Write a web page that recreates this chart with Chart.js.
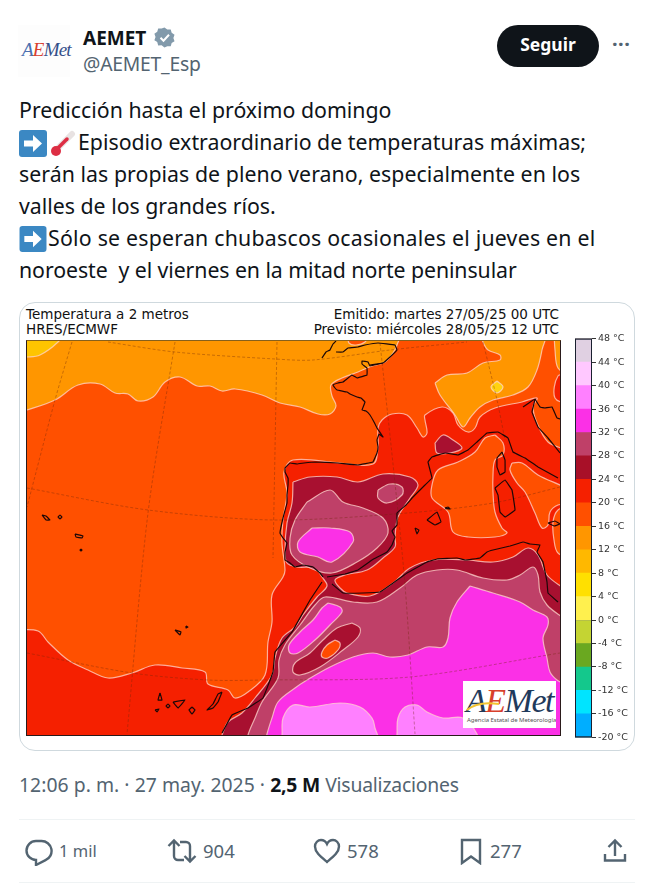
<!DOCTYPE html>
<html><head><meta charset="utf-8">
<script src="https://cdn.jsdelivr.net/npm/chart.js@4"></script>
<style>
html,body{margin:0;padding:0;background:#fff;width:654px;height:895px;overflow:hidden}
body{position:relative;font-family:"Noto Sans",sans-serif;color:#0f1419}
.t{position:absolute;white-space:nowrap}
.body{font-size:21.3px;left:19px;line-height:32px;color:#0f1419}
.g{color:#536471}
.m{font-family:"DejaVu Sans",sans-serif;font-size:13.5px;color:#111;line-height:15px}
canvas{position:absolute;display:block}
svg{position:absolute}
.hr{position:absolute;left:19px;width:616px;height:1px;background:#eff3f4}
</style></head><body>

<div class="t" style="left:18px;top:25px;width:52px;height:52px;background:#fdfdfd"></div>
<div class="t" style="left:22px;top:39px;font:italic 19px 'Liberation Serif',serif;letter-spacing:-.8px;color:#35508a"><span style="color:#4a6fb0">A</span><span style="color:#d8402c">E</span>Met</div>
<div class="t" style="left:83px;top:25px;font-size:19px;font-weight:700;line-height:26px">AEMET</div>
<svg style="left:154px;top:27px" width="22" height="22" viewBox="0 0 22 22"><path d="M11 1l3 2.2 3.6-.1 1 3.5 3 2.1-1.200 3.300 1.200 3.400-3 2-1 3.500-3.600-.1L11 22l-3-2.200-3.600.1-1-3.500-3-2L1.600 11 .4 7.700l3-2.100 1-3.500 3.600.1z" transform="translate(0 -.5) scale(.95)" fill="#829aab"/><path d="M6.500 10.800l3 3 5.500-6" fill="none" stroke="#fff" stroke-width="2"/></svg>
<div class="t g" style="left:83px;top:51px;font-size:19.3px;line-height:26px;letter-spacing:-.2px">@AEMET_Esp</div>
<div class="t" style="left:497px;top:25px;width:102px;height:42px;border-radius:21px;background:#0f1419;color:#fff;font-size:17.5px;font-weight:700;line-height:39px;text-align:center">Seguir</div>
<div class="t g" style="left:612px;top:34px;font-size:20px;font-weight:700;line-height:20px;letter-spacing:.5px">···</div>

<div class="t body" style="top:94px">Predicción hasta el próximo domingo</div>
<svg style="left:19px;top:130px" width="28" height="27" viewBox="0 0 28 27"><rect width="28" height="27" rx="3" fill="#3b88c3"/><path d="M5 10.500h9V5l9 8.500-9 8.500v-5.500H5z" fill="#fff"/></svg>
<svg style="left:50px;top:130px" width="26" height="27" viewBox="0 0 26 27"><path d="M22 4L7 19" stroke="#e8e2e2" stroke-width="6" stroke-linecap="round"/><path d="M17 9L7 19" stroke="#dd2e44" stroke-width="3.500" stroke-linecap="round"/><circle cx="6" cy="21" r="5" fill="#dd2e44"/></svg>
<div class="t body" style="top:126px;left:78px">Episodio extraordinario de temperaturas máximas;</div>
<div class="t body" style="top:158px;letter-spacing:.05px">serán las propias de pleno verano, especialmente en los</div>
<div class="t body" style="top:190px">valles de los grandes ríos.</div>
<svg style="left:19px;top:226px" width="28" height="26" viewBox="0 0 28 27"><rect width="28" height="27" rx="3" fill="#3b88c3"/><path d="M5 10.500h9V5l9 8.500-9 8.500v-5.500H5z" fill="#fff"/></svg>
<div class="t body" style="top:222px;left:48px;letter-spacing:.23px">Sólo se esperan chubascos ocasionales el jueves en el</div>
<div class="t body" style="top:254px;letter-spacing:-.08px">noroeste&nbsp; y el viernes en la mitad norte peninsular</div>

<div class="t" style="left:19px;top:302px;width:614px;height:447px;border:1px solid #cfd9de;border-radius:16px"></div>
<div class="t m" style="left:26px;top:307px">Temperatura a 2 metros<br>HRES/ECMWF</div>
<div class="t m" style="right:95px;top:307px;text-align:right">Emitido: martes 27/05/25 00 UTC<br>Previsto: miércoles 28/05/25 12 UTC</div>

<canvas id="map" width="534" height="394" style="left:26px;top:341px;width:534px;height:394px"></canvas>
<div class="t" style="left:26px;top:340px;width:533px;height:394px;border:1px solid #2a1a1a;border-top-color:#86601c;pointer-events:none"></div>
<div class="t" style="left:463px;top:681px;width:93px;height:47px;background:#fff;overflow:hidden">
  <div class="t" style="left:3px;top:1px;font:italic 34px 'Liberation Serif',serif;letter-spacing:-1.5px;color:#1f3a5c"><span>A</span><span style="color:#d8402c">E</span>Met</div>
  <svg style="left:3px;top:20px" width="34" height="10" viewBox="0 0 34 10"><path d="M1 9C8 3 20 1 33 3" fill="none" stroke="#f4c430" stroke-width="2"/></svg>
  <div class="t" style="left:4px;top:35px;font:6px 'Noto Sans',sans-serif;letter-spacing:-.05px;color:#555">Agencia Estatal de Meteorología</div>
</div>
<canvas id="bar" width="65" height="414" style="left:575px;top:331px;width:65px;height:414px"></canvas>

<div class="t g" style="left:19px;top:771px;font-size:19.35px;line-height:28px"><span style="letter-spacing:.04px">12:06 p. m. · 27 may. 2025 · </span><b style="color:#0f1419;font-weight:700;letter-spacing:-.2px">2,5 M</b> <span style="letter-spacing:-.2px">Visualizaciones</span></div>
<div class="hr" style="top:819px"></div>
<div class="hr" style="top:882px"></div>
<svg style="left:25px;top:838px" width="28" height="28" viewBox="0 0 28 28" fill="none" stroke="#536471" stroke-width="2.400"><path d="M11 3h5.500a10 10 0 0 1 4 19.200L11 27v-5A9.500 9.500 0 0 1 11 3z"/></svg>
<div class="t g" style="left:59px;top:838px;font-size:16.5px;line-height:26px">1 mil</div>
<svg style="left:167px;top:838px" width="30" height="26" viewBox="0 0 30 26" fill="none" stroke="#536471" stroke-width="2.400"><path d="M1.500 8L7 2.500 12.500 8M7 3v15a4 4 0 0 0 4 4h6M28.500 18L23 23.500 17.500 18M23 23V8a4 4 0 0 0-4-4h-6"/></svg>
<div class="t g" style="left:203px;top:838px;font-size:18.500px;line-height:26px">904</div>
<svg style="left:313px;top:838px" width="28" height="26" viewBox="0 0 28 26" fill="none" stroke="#536471" stroke-width="2.400"><path d="M14 24C8 19 2 14.500 2 8.500 2 4.500 5 2 8 2c2.500 0 4.800 1.500 6 4 1.200-2.500 3.500-4 6-4 3 0 6 2.500 6 6.500 0 6-6 10.500-12 15.500z"/></svg>
<div class="t g" style="left:347px;top:838px;font-size:18.500px;line-height:26px">578</div>
<svg style="left:460px;top:838px" width="22" height="27" viewBox="0 0 22 27" fill="none" stroke="#536471" stroke-width="2.400"><path d="M2 2h18v23l-9-6.500L2 25z"/></svg>
<div class="t g" style="left:490px;top:838px;font-size:18.500px;line-height:26px">277</div>
<svg style="left:603px;top:838px" width="24" height="26" viewBox="0 0 24 26" fill="none" stroke="#536471" stroke-width="2.400"><path d="M12 18V3M5.500 9L12 2.500 18.500 9M2 16v6.500h20V16"/></svg>

<script>
// ---- colour bar values ----
const tempLow  = [-20,-16,-12,-8,-4,0,4,8,12,16,20,24,28,32,36,40,44];
const tempHigh = [-16,-12,-8,-4,0,4,8,12,16,20,24,28,32,36,40,44,48];
const bandColors = ['#00aeff','#00e4ff','#14c88c','#6aa820','#c4d433','#fff04e','#ffe000','#ffb800','#ff9600','#ff5000','#f52000','#a81028','#bf4068','#fb30e6','#ff80ff','#ffc8ff','#e0d0e2'];

// ---- map contours (map x, map y) ----
const seaBase = [[10,330],[575,330],[575,745],[10,745],[10,330]];
const yellowCorner = [[15,330],[15,357],[27,357],[40,355],[58,342],[66,330],[15,330]];
const orangeNorth = [[15,330],[15,413],[27,410],[55,400],[78,385],[100,384],[115,393],[128,394],[138,401],[153,397],[165,382],[180,377],[197,386],[210,386],[222,391],[235,389],[262,395],[280,403],[300,407],[318,414],[330,414],[336,406],[332,396],[331,385],[342,378],[358,372],[372,366],[385,362],[393,353],[397,345],[400,330],[15,330]];
const channelPatch = [[348,336],[349,343],[356,345],[365,342],[367,336],[348,336]];
const orangeCentral = [[435,383],[447,375],[467,373],[483,363],[500,360],[500,355],[488,350],[483,342],[480,330],[545,330],[542,350],[537,370],[528,387],[513,395],[493,400],[480,407],[470,418],[463,427],[455,415],[440,395],[435,383]];
const orangeSliver = [[554,330],[555,350],[558,368],[568,372],[568,330],[554,330]];
const yellowDot = [[497,381],[503,387],[497,393],[491,387],[497,381]];
const redMain = [[15,630],[38,631],[48,642],[68,660],[88,670],[108,678],[132,673],[155,665],[182,668],[205,672],[208,684],[228,690],[235,698],[248,692],[265,675],[268,642],[272,622],[272,595],[283,577],[285,570],[282,543],[283,520],[287,493],[284,472],[293,460],[340,463],[373,464],[378,447],[378,428],[382,420],[392,414],[407,415],[417,428],[423,437],[427,433],[425,420],[425,415],[442,407],[453,413],[458,425],[468,432],[475,428],[480,417],[495,408],[522,402],[537,398],[533,407],[537,423],[548,442],[572,457],[572,750],[15,750],[15,630]];
const redRightEdge = [[570,375],[558,376],[555,398],[570,402],[570,375]];
const medBlob = [[495,435],[503,443],[503,455],[495,460],[493,475],[493,492],[495,512],[502,528],[507,533],[495,537],[468,537],[453,532],[448,512],[432,498],[432,485],[438,470],[458,462],[475,452],[485,438],[495,435]];
const ionianBlob = [[512,463],[522,463],[538,475],[572,492],[572,503],[558,505],[550,512],[548,525],[542,528],[535,513],[525,492],[517,483],[510,470],[512,463]];
const ionianSliver = [[572,505],[558,510],[553,522],[554,540],[558,553],[572,556],[572,505]];
const darkFrance = [[435,443],[443,435],[453,440],[462,448],[450,453],[437,453],[435,443]];
const darkIberiaAfrica = [[293,482],[310,477],[337,477],[358,482],[383,474],[410,477],[418,485],[410,498],[398,517],[395,537],[395,547],[383,558],[367,570],[345,575],[335,580],[340,588],[347,593],[370,596],[393,583],[410,568],[433,560],[467,560],[493,562],[513,557],[528,548],[538,555],[547,575],[572,600],[572,750],[216,750],[222,735],[228,722],[242,713],[255,698],[272,675],[275,658],[282,638],[295,627],[303,615],[317,597],[327,586],[322,577],[315,568],[297,567],[287,563],[285,550],[287,523],[292,503],[293,482]];
const roseIberia = [[307,502],[330,490],[343,502],[363,508],[383,518],[388,533],[377,548],[357,562],[332,573],[310,568],[292,555],[290,538],[295,520],[307,502]];
const roseIberiaNE = [[378,490],[390,484],[402,487],[402,495],[387,503],[378,498],[378,490]];
const roseAfrica = [[246,750],[248,735],[255,718],[262,702],[278,678],[279,660],[285,645],[300,625],[315,605],[325,597],[353,602],[377,602],[400,588],[417,575],[437,570],[457,570],[483,578],[507,580],[520,575],[533,567],[538,575],[540,592],[547,605],[572,630],[572,750],[246,750]];
const magentaIberia = [[312,528],[330,528],[350,532],[353,542],[332,562],[318,557],[300,552],[298,542],[312,528]];
const magentaAfrica = [[470,586],[493,593],[520,602],[533,610],[547,617],[548,625],[543,638],[547,658],[550,672],[557,680],[572,690],[572,750],[264,750],[267,734],[272,718],[278,702],[295,688],[307,680],[330,667],[353,657],[373,653],[390,657],[408,655],[427,647],[443,647],[448,638],[450,618],[457,602],[470,586]];
const magentaLens = [[328,603],[340,607],[342,612],[330,625],[315,640],[298,653],[290,653],[289,645],[300,632],[313,620],[322,608],[328,603]];
const darkLens = [[352,623],[360,628],[358,637],[343,650],[320,667],[300,675],[293,672],[295,663],[310,653],[323,640],[337,628],[352,623]];
const redSpot = [[335,640],[340,643],[338,650],[328,658],[322,657],[322,652],[327,645],[335,640]];
const lightSouthW = [[280,750],[282,735],[283,718],[293,705],[310,707],[340,703],[360,707],[372,718],[375,728],[380,750],[280,750]];
const lightSouthE = [[396,750],[397,734],[398,718],[405,707],[417,705],[427,712],[443,718],[463,718],[477,734],[480,750],[396,750]];

// ---- graticule ----
const meridianA = [[72,342],[55,400],[27,507]];
const meridianB = [[175,342],[148,513],[127,734]];
const meridianC = [[277,342],[275,450],[273,558]];
const meridianD = [[380,343],[395,483],[405,585],[415,734]];
const meridianE = [[483,342],[497,400],[505,440]];
const parallelA = [[108,342],[175,352],[275,359],[313,360],[390,350],[467,342]];
const parallelB = [[27,488],[148,510],[275,520],[407,513],[493,503],[560,487]];
const parallelC = [[27,653],[132,673],[208,680],[265,680],[410,677],[560,653]];

// ---- coast lines ----
const coastCornwall = [[322,358],[326,352],[330,350],[333,344],[336,341]];
const coastBritain = [[336,352],[343,352],[348,348],[358,347],[365,345],[378,343],[395,345],[397,350],[390,357],[383,363],[370,365]];
const coastFrance = [[383,363],[370,366],[368,362],[362,361],[362,364],[367,368],[367,375],[357,378],[352,375],[343,382],[338,383],[333,385],[335,388],[337,390],[347,392],[350,394],[357,397],[361,398],[365,402],[362,410],[366,411],[370,415],[374,422],[377,428],[383,437],[379,434],[377,440],[378,447],[377,453],[373,462],[358,465],[338,463],[315,462],[304,463],[297,464],[290,463],[285,468],[285,472],[288,478],[288,485],[287,495],[287,503],[283,518],[280,533],[283,538],[287,543],[285,552],[285,560],[290,563],[295,567],[303,565],[313,567],[320,573],[323,577]];
const coastMedSpain = [[327,577],[345,574],[358,570],[372,560],[387,552],[392,545],[395,537],[392,531],[397,525],[397,513],[406,505],[413,497],[420,490],[425,485],[432,478],[428,462],[432,457],[445,453],[458,455],[468,450],[477,442],[487,433],[498,432],[508,438],[513,452],[525,458],[538,467],[558,478]];
const coastAdriatic = [[523,407],[535,399],[532,412],[538,427],[548,438],[560,453]];
const coastCroatia = [[535,399],[540,407],[545,408],[552,407],[557,418],[560,419]];
const coastNorthAfrica = [[332,584],[343,593],[363,593],[380,592],[393,583],[407,573],[427,562],[437,559],[457,558],[465,560],[480,558],[487,552],[493,550],[510,546],[523,542],[530,544],[540,545],[537,552],[543,562],[547,582],[548,593],[558,602]];
const coastMorocco = [[322,582],[310,600],[292,632],[275,652],[273,672],[263,698],[248,708],[232,715],[222,733]];
const corsica = [[502,452],[497,458],[497,467],[500,475],[505,472],[505,460],[502,452]];
const sardinia = [[495,488],[505,480],[512,490],[515,510],[505,517],[500,512],[498,495],[495,488]];
const mallorca = [[427,520],[437,512],[441,522],[435,525],[427,520]];
const menorca = [[445,508],[448,507],[450,509],[445,508]];
const ibiza = [[415,528],[419,530],[417,534],[415,528]];
const sicily = [[548,523],[555,521],[560,524],[554,526],[548,523]];
const tenerife = [[173,702],[185,700],[178,708],[173,702]];
const laPalma = [[160,693],[162,700],[158,700],[160,693]];
const gomera = [[168,704],[170,706],[168,708],[166,706],[168,704]];
const hierro = [[155,710],[159,709],[157,712],[155,710]];
const granCanaria = [[192,707],[195,710],[192,714],[189,710],[192,707]];
const fuerteventura = [[222,692],[218,702],[213,708],[207,710],[213,704],[218,694],[222,692]];
const azoresW = [[42,515],[46,516],[50,520],[46,520],[42,515]];
const azoresE = [[60,515],[62,517],[60,519],[58,517],[60,515]];
const azoresS = [[75,534],[83,536],[82,538],[76,537],[75,534]];
const santaMaria = [[81,549],[82,550],[81,551],[80,550],[81,549]];
const madeira = [[175,630],[181,632],[180,635],[175,630]];
const portoSanto = [[186,626],[188,627],[186,628],[186,626]];

const pale = 'rgba(255,215,205,.75)';
const fills = [
 [seaBase,'#ff5000',0,'transparent'],
 [orangeNorth,'#ff9600'],[yellowCorner,'#ffc400'],[channelPatch,'#ff5000'],[orangeCentral,'#ff9600'],[orangeSliver,'#ff9600'],[yellowDot,'#ffd210'],
 [redMain,'#f52000'],[redRightEdge,'#f52000'],[medBlob,'#ff5000'],[ionianBlob,'#ff5000'],[ionianSliver,'#ff5000'],
 [darkFrance,'#a81030'],[darkIberiaAfrica,'#a81030'],
 [roseIberia,'#bf4068'],[roseIberiaNE,'#bf4068'],[roseAfrica,'#bf4068'],
 [magentaIberia,'#fb30e6'],[magentaAfrica,'#fb30e6'],[magentaLens,'#fb30e6'],
 [darkLens,'#a81030'],[redSpot,'#ff4a00'],[lightSouthW,'#ff80ff'],[lightSouthE,'#ff80ff']
];
const grid = [meridianA,meridianB,meridianC,meridianD,meridianE,parallelA,parallelB,parallelC];
const coasts = [coastCornwall,coastBritain,coastFrance,coastMedSpain,coastAdriatic,coastCroatia,coastNorthAfrica,coastMorocco,corsica,sardinia,mallorca,menorca,ibiza,sicily,tenerife,laPalma,gomera,hierro,granCanaria,fuerteventura,azoresW,azoresE,azoresS,santaMaria,madeira,portoSanto];
const toXY = a => a.map(p => ({x:p[0], y:p[1]}));

const ds = [];
fills.forEach(f => ds.push({data:toXY(f[0]),showLine:true,pointRadius:0,fill:'shape',backgroundColor:f[1],
  borderColor:f[3]||pale,borderWidth:1.2,tension:f[2]===0?0:0.35}));
grid.forEach(g => ds.push({data:toXY(g),showLine:true,pointRadius:0,fill:false,borderColor:'rgba(110,40,10,.55)',borderWidth:.7,borderDash:[3,2],tension:.3}));
coasts.forEach(c => ds.push({data:toXY(c),showLine:true,pointRadius:0,fill:false,borderColor:'#1c0808',borderWidth:1.2,tension:.05}));
ds.forEach((d,i) => d.order = ds.length - i);

new Chart(document.getElementById('map'),{type:'scatter',data:{datasets:ds},options:{
  responsive:false,animation:false,devicePixelRatio:1,events:[],
  layout:{padding:0},
  elements:{line:{capBezierPoints:false}},
  plugins:{legend:{display:false},tooltip:{enabled:false},title:{display:false}},
  scales:{x:{type:'linear',display:false,min:26,max:560},y:{type:'linear',display:false,reverse:true,min:341,max:735}}
}});

const frame = {id:'frame',afterDatasetsDraw(c){const a=c.chartArea,x=c.ctx;x.save();x.strokeStyle='#1a2030';x.lineWidth=1;x.strokeRect(a.left+.5,a.top+.5,a.width-1,a.height-1);x.restore();}};
const tickVals = tempHigh.concat([-20]);
new Chart(document.getElementById('bar'),{type:'bar',plugins:[frame],
 data:{labels:['T'],datasets:tempLow.map((lo,i)=>({data:[[lo,tempHigh[i]]],backgroundColor:bandColors[i],barPercentage:1,categoryPercentage:1,borderWidth:0}))},
 options:{responsive:false,animation:false,devicePixelRatio:1,events:[],
  layout:{padding:{top:6,bottom:6,left:0,right:0}},
  plugins:{legend:{display:false},tooltip:{enabled:false}},
  scales:{
   x:{display:false,stacked:true},
   y:{position:'right',min:-20,max:48,afterFit(s){s.width=48;},
      afterBuildTicks(s){s.ticks=tickVals.map(v=>({value:v}));},
      border:{display:false},
      grid:{color:'rgba(40,30,30,.55)',lineWidth:1,tickLength:4,drawOnChartArea:true,tickColor:'#333'},
      ticks:{padding:2,autoSkip:false,color:'#333',font:{family:'DejaVu Sans',size:9.5},callback:v=>v+' °C'}}
  }}});
</script>
</body></html>
